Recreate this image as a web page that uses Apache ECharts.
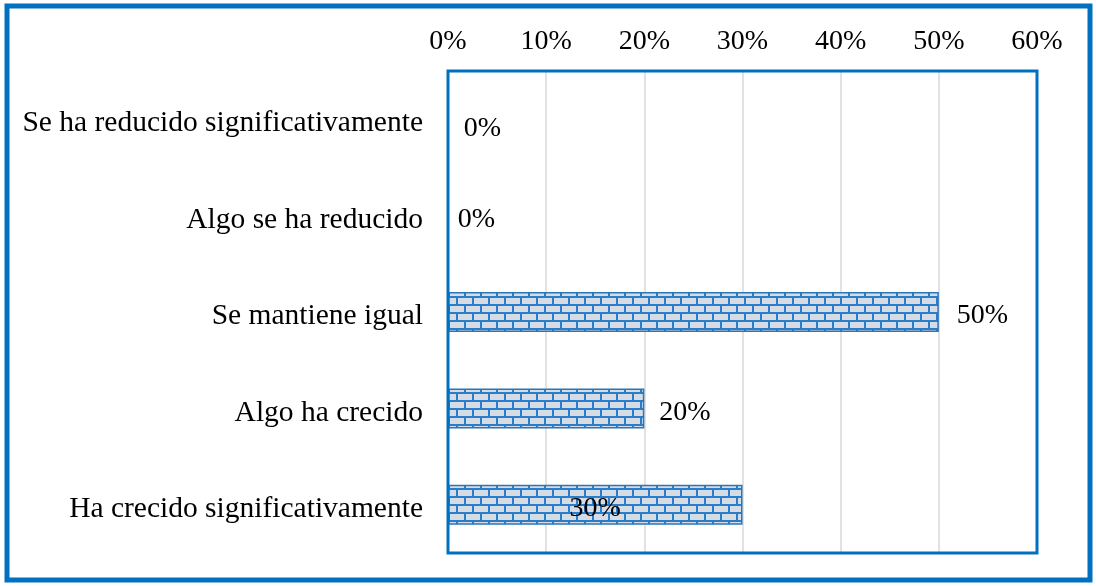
<!DOCTYPE html>
<html><head><meta charset="utf-8">
<script src="https://cdn.jsdelivr.net/npm/echarts@6/dist/echarts.min.js"></script>
<style>html,body{margin:0;padding:0;background:#fff}#c{width:1096px;height:586px}</style>
</head><body><div id="c"></div>
<script>
const categories = ["Se ha reducido significativamente","Algo se ha reducido","Se mantiene igual","Algo ha crecido","Ha crecido significativamente"];
const values = [0, 0, 50, 20, 30];
const tickMin = 0, tickMax = 60, tickStep = 10;

function brick(){
  const c = document.createElement('canvas');
  c.width = 16; c.height = 16;
  const g = c.getContext('2d');
  g.fillStyle = '#D6DCE5'; g.fillRect(0,0,16,16);
  g.fillStyle = '#2A7DC9';
  g.fillRect(0,0,16,2);
  g.fillRect(0,8,16,2);
  g.fillRect(0,0,2,8);
  g.fillRect(8,8,2,8);
  return c;
}
const font = '"Liberation Serif","Times New Roman",serif';
const labelOverrides = {0:{distance:15,offset:[0,9]},1:{distance:9},2:{distance:18},4:{position:'inside'}};
const GL = 448, GT = 71, GR = 59, GB = 33;
const chart = echarts.init(document.getElementById('c'), null, {renderer:'canvas'});
chart.setOption({
  animation:false,
  graphic:[
    {type:'rect',z:100,shape:{x:7,y:6,width:1083,height:574},style:{fill:'none',stroke:'#0070C0',lineWidth:5}},
    {type:'rect',z:100,shape:{x:GL,y:GT,width:1096-GL-GR,height:586-GT-GB},style:{fill:'none',stroke:'#0070C0',lineWidth:3}}
  ],
  grid:{left:GL,right:GR,top:GT,bottom:GB,containLabel:false},
  xAxis:{type:'value',position:'top',min:tickMin,max:tickMax,interval:tickStep,
    axisLine:{show:false},axisTick:{show:false},
    splitLine:{lineStyle:{color:'#D9D9D9',width:1.5}},
    axisLabel:{formatter:v=>v+'%',fontFamily:font,fontSize:28,color:'#000',margin:15}},
  yAxis:{type:'category',inverse:true,data:categories,
    axisLine:{show:false},axisTick:{show:false},
    axisLabel:{fontFamily:font,fontSize:29.5,color:'#000',margin:25,
      formatter:v=>'{a|'+v+'}',
      rich:{a:{fontFamily:font,fontSize:29.5,color:'#000',padding:[9,0,0,0]}}}},
  series:[{type:'bar',barWidth:40,
    data:values.map((v,i)=>({value:v,label:labelOverrides[i]||{}})),
    itemStyle:{color:{image:brick(),repeat:'repeat'},borderColor:'#2E75B6',borderWidth:1.5},
    label:{show:true,position:'right',distance:15,offset:[0,4],formatter:p=>p.value+'%',fontFamily:font,fontSize:28,color:'#000'}}]
});
</script></body></html>
